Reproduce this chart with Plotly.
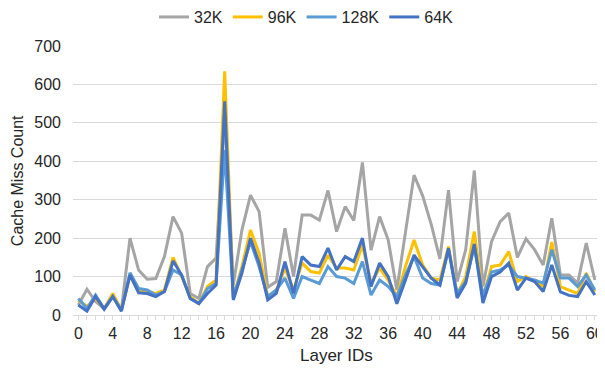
import plotly.graph_objects as go

layers = list(range(61))

s32k = [26, 67, 35, 17, 50, 13, 200, 117, 93, 95, 152, 256, 213, 56, 43, 126, 148, 520, 78, 221,
        312, 269, 72, 87, 226, 100, 260, 260, 247, 324, 217, 282, 246, 397, 169, 256, 195, 65, 215, 364,
        310, 235, 146, 325, 87, 170, 376, 74, 191, 243, 265, 150, 198, 170, 130, 252, 104, 104, 83, 187, 91]
s96k = [39, 22, 43, 17, 56, 13, 104, 61, 61, 56, 65, 150, 100, 48, 30, 74, 91, 634, 45, 126,
        221, 160, 48, 65, 122, 65, 135, 113, 109, 156, 122, 122, 117, 182, 82, 122, 91, 48, 126, 195,
        130, 96, 91, 178, 54, 100, 217, 45, 126, 130, 165, 87, 100, 87, 74, 190, 74, 65, 56, 109, 61]
s128k = [43, 17, 52, 17, 48, 13, 110, 69, 65, 52, 61, 117, 104, 43, 30, 69, 82, 430, 45, 117,
         191, 126, 48, 65, 96, 43, 100, 91, 82, 126, 100, 96, 82, 139, 52, 91, 74, 48, 104, 152,
         96, 82, 78, 170, 57, 87, 178, 50, 112, 117, 130, 100, 96, 91, 83, 170, 96, 96, 74, 104, 65]
s64k = [26, 10, 48, 15, 48, 10, 104, 58, 56, 48, 61, 141, 104, 43, 30, 56, 78, 556, 39, 109,
        200, 135, 39, 56, 139, 56, 152, 130, 126, 174, 117, 152, 139, 200, 74, 135, 100, 29, 91, 156,
        125, 96, 78, 174, 44, 83, 185, 31, 100, 112, 135, 65, 96, 87, 61, 130, 60, 51, 48, 87, 52]

series = [("32K", s32k, "#A5A5A5"), ("96K", s96k, "#FFC000"),
          ("128K", s128k, "#5B9BD5"), ("64K", s64k, "#4472C4")]

fig = go.Figure()
for name, vals, color in series:
    fig.add_trace(go.Scatter(x=layers, y=vals, mode="lines", name=name,
                             line=dict(color=color, width=3)))

font = "Liberation Sans, Arial, sans-serif"
txt = "#262626"
fig.update_layout(
    width=597, height=362,
    margin=dict(l=65, r=5, t=38, b=55, autoexpand=False),
    paper_bgcolor="white", plot_bgcolor="white",
    font=dict(family=font, size=16, color=txt),
    showlegend=True,
    legend=dict(orientation="h", x=0.5, xanchor="center", xref="container",
                y=0.975, yanchor="middle", yref="container",
                font=dict(size=16, color=txt),
                itemwidth=30, tracegroupgap=0),
    xaxis=dict(range=[-0.62, 60.6], tickmode="linear", tick0=0, dtick=4,
               showgrid=False, zeroline=False, automargin=False,
               showline=True, linecolor="#D9D9D9", linewidth=1,
               ticks="outside", ticklen=4, tickcolor="#D9D9D9",
               minor=dict(dtick=1, ticks="outside", ticklen=4, tickcolor="#D9D9D9", showgrid=False),
               tickfont=dict(size=16, color=txt)),
    yaxis=dict(range=[0, 700], tickmode="linear", tick0=0, dtick=100,
               showgrid=True, gridcolor="#D9D9D9", gridwidth=1, zeroline=False,
               showline=False, ticks="", automargin=False, ticklabelstandoff=11,
               tickfont=dict(size=16, color=txt)),
    annotations=[
        dict(text="Layer IDs", xref="paper", yref="paper", x=0.5, y=-0.149,
             xanchor="center", yanchor="middle", showarrow=False,
             font=dict(size=17, color=txt)),
        dict(text="Cache Miss Count", xref="paper", yref="paper", x=-0.105, y=0.5,
             xanchor="center", yanchor="middle", textangle=-90, showarrow=False,
             font=dict(size=16, color=txt)),
    ],
)

fig.write_html("out.html")
